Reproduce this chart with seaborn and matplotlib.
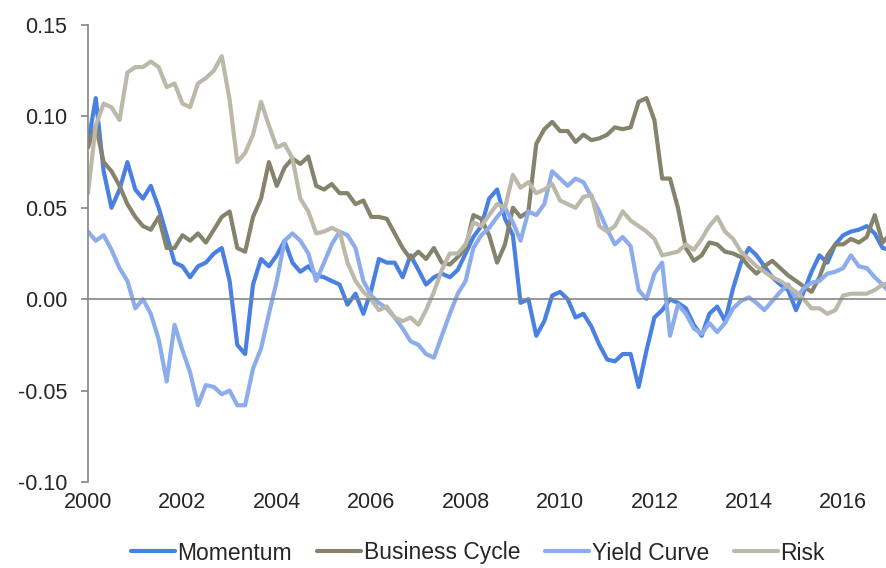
import matplotlib
matplotlib.use("Agg")
import matplotlib.pyplot as plt
import matplotlib.dates as mdates
import pandas as pd
import seaborn as sns

# bi-monthly observations, Jan 2000 onwards
dates = pd.date_range("2000-01-01", periods=103, freq="2MS")

momentum = [
    0.085, 0.110, 0.070, 0.050, 0.060, 0.075, 0.060, 0.055, 0.062, 0.050,
    0.035, 0.020, 0.018, 0.012, 0.018, 0.020, 0.025, 0.028, 0.010, -0.025,
    -0.030, 0.008, 0.022, 0.018, 0.024, 0.032, 0.020, 0.015, 0.018, 0.013,
    0.012, 0.010, 0.008, -0.003, 0.003, -0.008, 0.005, 0.022, 0.020, 0.020,
    0.012, 0.024, 0.016, 0.008, 0.012, 0.014, 0.012, 0.016, 0.025, 0.034,
    0.040, 0.055, 0.060, 0.044, 0.035, -0.002, 0.000, -0.020, -0.012, 0.002,
    0.004, 0.000, -0.010, -0.008, -0.015, -0.025, -0.033, -0.034, -0.030, -0.030,
    -0.048, -0.028, -0.010, -0.006, 0.000, -0.002, -0.005, -0.014, -0.020, -0.008,
    -0.004, -0.012, 0.006, 0.020, 0.028, 0.024, 0.018, 0.012, 0.008, 0.005,
    -0.006, 0.004, 0.015, 0.024, 0.020, 0.030, 0.035, 0.037, 0.038, 0.040,
    0.036, 0.028, 0.027,
]

business_cycle = [
    0.083, 0.095, 0.075, 0.070, 0.062, 0.052, 0.045, 0.040, 0.038, 0.045,
    0.028, 0.028, 0.035, 0.032, 0.036, 0.031, 0.038, 0.045, 0.048, 0.028,
    0.026, 0.045, 0.055, 0.075, 0.062, 0.072, 0.077, 0.074, 0.078, 0.062,
    0.060, 0.063, 0.058, 0.058, 0.052, 0.054, 0.045, 0.045, 0.044, 0.036,
    0.028, 0.022, 0.026, 0.022, 0.028, 0.020, 0.019, 0.023, 0.028, 0.046,
    0.044, 0.035, 0.020, 0.030, 0.050, 0.045, 0.048, 0.085, 0.093, 0.097,
    0.092, 0.092, 0.086, 0.090, 0.087, 0.088, 0.090, 0.094, 0.093, 0.094,
    0.108, 0.110, 0.098, 0.066, 0.066, 0.050, 0.028, 0.021, 0.024, 0.031,
    0.030, 0.026, 0.025, 0.023, 0.018, 0.014, 0.018, 0.021, 0.017, 0.013,
    0.010, 0.007, 0.004, 0.012, 0.024, 0.030, 0.030, 0.033, 0.031, 0.034,
    0.046, 0.031, 0.036,
]

yield_curve = [
    0.037, 0.032, 0.035, 0.027, 0.017, 0.010, -0.005, 0.000, -0.008, -0.022,
    -0.045, -0.014, -0.028, -0.040, -0.058, -0.047, -0.048, -0.052, -0.050, -0.058,
    -0.058, -0.038, -0.027, -0.008, 0.010, 0.032, 0.036, 0.032, 0.025, 0.010,
    0.020, 0.030, 0.037, 0.035, 0.028, 0.010, 0.002, -0.002, -0.005, -0.010,
    -0.016, -0.023, -0.025, -0.030, -0.032, -0.020, -0.008, 0.003, 0.010, 0.028,
    0.035, 0.039, 0.045, 0.050, 0.042, 0.032, 0.048, 0.046, 0.052, 0.070,
    0.066, 0.062, 0.066, 0.064, 0.056, 0.048, 0.038, 0.030, 0.034, 0.029,
    0.005, 0.000, 0.014, 0.020, -0.020, -0.003, -0.008, -0.016, -0.019, -0.013,
    -0.018, -0.013, -0.005, -0.001, 0.001, -0.002, -0.006, -0.001, 0.004, 0.008,
    0.000, 0.006, 0.009, 0.010, 0.014, 0.015, 0.017, 0.024, 0.018, 0.017,
    0.012, 0.008, 0.003,
]

risk = [
    0.058, 0.095, 0.107, 0.105, 0.098, 0.124, 0.127, 0.127, 0.130, 0.127,
    0.116, 0.118, 0.107, 0.105, 0.118, 0.121, 0.125, 0.133, 0.109, 0.075,
    0.080, 0.090, 0.108, 0.095, 0.083, 0.085, 0.077, 0.055, 0.048, 0.036,
    0.037, 0.039, 0.037, 0.020, 0.010, 0.004, 0.000, -0.006, -0.004, -0.010,
    -0.012, -0.010, -0.014, -0.006, 0.004, 0.016, 0.025, 0.025, 0.030, 0.042,
    0.040, 0.046, 0.052, 0.050, 0.068, 0.061, 0.064, 0.058, 0.060, 0.063,
    0.054, 0.052, 0.050, 0.056, 0.057, 0.040, 0.037, 0.040, 0.048, 0.043,
    0.040, 0.037, 0.033, 0.024, 0.025, 0.026, 0.030, 0.027, 0.033, 0.040,
    0.045, 0.037, 0.033, 0.026, 0.022, 0.018, 0.015, 0.012, 0.010, 0.007,
    0.004, 0.000, -0.005, -0.005, -0.008, -0.006, 0.002, 0.003, 0.003, 0.003,
    0.005, 0.008, 0.009,
]

series = {
    "Momentum": momentum,
    "Business Cycle": business_cycle,
    "Yield Curve": yield_curve,
    "Risk": risk,
}
colors = ["#4A80E2", "#86836C", "#8CACEC", "#BCB9AA"]

df = pd.DataFrame({"date": dates, **series}).melt(
    id_vars="date", var_name="factor", value_name="value"
)

sns.set_style("white")
plt.rcParams["font.family"] = ["Liberation Sans", "DejaVu Sans"]

fig = plt.figure(figsize=(8.87, 5.68), dpi=100)
ax = fig.add_axes([88 / 887, 1 - 482 / 568, 1 - 88 / 887, (482 - 25) / 568])

sns.lineplot(
    data=df, x="date", y="value", hue="factor",
    hue_order=list(series.keys()), palette=colors,
    linewidth=3, ax=ax,
)

ax.set_xlim(pd.Timestamp("2000-01-01"), pd.Timestamp("2016-12-05"))
ax.set_ylim(-0.10, 0.15)
ax.set_yticks([-0.10, -0.05, 0.00, 0.05, 0.10, 0.15])
ax.set_yticklabels(["-0.10", "-0.05", "0.00", "0.05", "0.10", "0.15"])
ax.set_xlabel("")
ax.set_ylabel("")

axis_grey = "#868686"
for side in ["top", "right"]:
    ax.spines[side].set_visible(False)
ax.spines["left"].set_color(axis_grey)
ax.spines["left"].set_linewidth(1.2)
ax.spines["bottom"].set_position(("data", 0))
ax.spines["bottom"].set_color(axis_grey)
ax.spines["bottom"].set_linewidth(1.2)

ax.xaxis.set_major_locator(mdates.YearLocator(2))
ax.tick_params(axis="x", direction="out", length=4, width=1.2,
               color=axis_grey, labelbottom=False)
ax.tick_params(axis="y", direction="out", length=5, width=1.2,
               color=axis_grey, labelsize=15.5, pad=10, left=True)

# year labels sit under the plot, not on the zero line
sec = ax.secondary_xaxis("bottom")
sec.xaxis.set_major_locator(mdates.YearLocator(2))
sec.xaxis.set_major_formatter(mdates.DateFormatter("%Y"))
sec.spines["bottom"].set_visible(False)
sec.tick_params(axis="x", length=0, labelsize=15.5, pad=7)

ax.legend(
    loc="center", bbox_to_anchor=(478 / 887, 1 - 553 / 568),
    bbox_transform=fig.transFigure, ncol=4, frameon=False,
    fontsize=16.5, handlelength=1.9, handletextpad=0.12, columnspacing=1.1,
)

fig.savefig("out.png", dpi=100)
